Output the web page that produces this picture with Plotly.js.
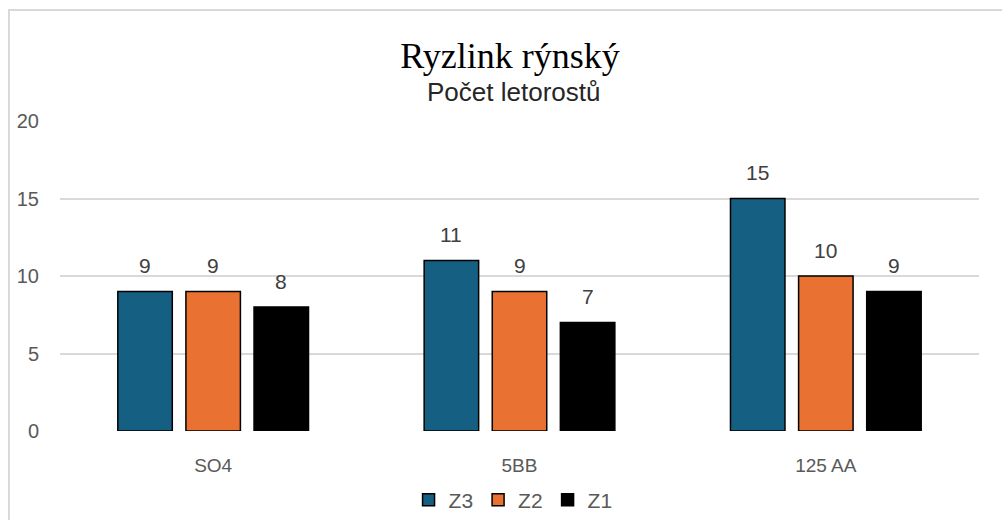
<!DOCTYPE html>
<html>
<head>
<meta charset="utf-8">
<script src="https://cdn.plot.ly/plotly-3.0.1.min.js"></script>
<style>
  html, body { margin: 0; padding: 0; background: #fff; }
  #wrap { position: relative; width: 1002px; height: 520px; overflow: hidden; }
  #chart { width: 1002px; height: 520px; }
  #frame { position: absolute; left: 8px; top: 9px; width: 1200px; height: 700px;
           border-left: 2px solid #d9d9d9; border-top: 2px solid #d9d9d9; pointer-events: none; }
</style>
</head>
<body>
<div id="wrap">
  <div id="chart"></div>
  <div id="frame"></div>
</div>
<script>
const categories = ['SO4', '5BB', '125 AA'];
const seriesNames = ['Z3', 'Z2', 'Z1'];
const z3 = [9, 11, 15];
const z2 = [9, 9, 10];
const z1 = [8, 7, 9];
const yTicks = [0, 5, 10, 15, 20];

const seriesValues = [z3, z2, z1];
const colors = ['#156082', '#E97132', '#000000'];
const sans = 'Liberation Sans, Arial, sans-serif';
const bargap = 0.333;

const traces = seriesValues.map((vals, i) => ({
  type: 'bar',
  name: seriesNames[i],
  x: categories,
  y: vals,
  marker: { color: colors[i], line: { color: '#000000', width: 1.5 } },
  hoverinfo: 'x+y+name'
}));

const annotations = [];
const slot = (1 - bargap) / seriesValues.length;
seriesValues.forEach((vals, i) => {
  vals.forEach((v, j) => {
    annotations.push({
      x: j + (i - (seriesValues.length - 1) / 2) * slot,
      y: v, xref: 'x', yref: 'y',
      text: String(v), showarrow: false,
      yanchor: 'middle', yshift: 26,
      font: { family: sans, size: 21, color: '#404040' }
    });
  });
});
annotations.push({
  text: 'Počet letorostů', xref: 'paper', yref: 'paper',
  x: 0.493, y: 1.094, xanchor: 'center', yanchor: 'middle', showarrow: false,
  font: { family: sans, size: 26, color: '#262626' }
});

const layout = {
  width: 1002, height: 520,
  margin: { l: 60, r: 23, t: 121, b: 89, autoexpand: false },
  paper_bgcolor: '#ffffff', plot_bgcolor: '#ffffff',
  title: {
    text: 'Ryzlink rýnský',
    font: { family: 'Liberation Serif, Times New Roman, serif', size: 36, color: '#000000' },
    xref: 'container', x: 0.509, xanchor: 'center',
    yref: 'container', y: 0.894, yanchor: 'middle'
  },
  barmode: 'group', bargap: bargap, bargroupgap: 0.2,
  xaxis: {
    type: 'category', showgrid: false, zeroline: false, showline: false, automargin: false,
    ticks: 'outside', ticklen: 17, tickcolor: 'rgba(0,0,0,0)',
    tickfont: { family: sans, size: 19, color: '#595959' }
  },
  yaxis: {
    range: [0, 20], tickvals: yTicks, showgrid: true, gridcolor: '#d9d9d9', gridwidth: 1.5,
    zeroline: false, showline: false, automargin: false,
    ticks: 'outside', ticklen: 16, tickcolor: 'rgba(0,0,0,0)',
    tickfont: { family: sans, size: 20, color: '#595959' }
  },
  showlegend: true,
  legend: {
    orientation: 'h', x: 0.493, xanchor: 'center', y: -0.223, yanchor: 'middle',
    font: { family: sans, size: 21, color: '#595959' },
    traceorder: 'normal', itemwidth: 30
  },
  annotations: annotations
};

Plotly.newPlot('chart', traces, layout, { displayModeBar: false, responsive: false });
</script>
</body>
</html>
